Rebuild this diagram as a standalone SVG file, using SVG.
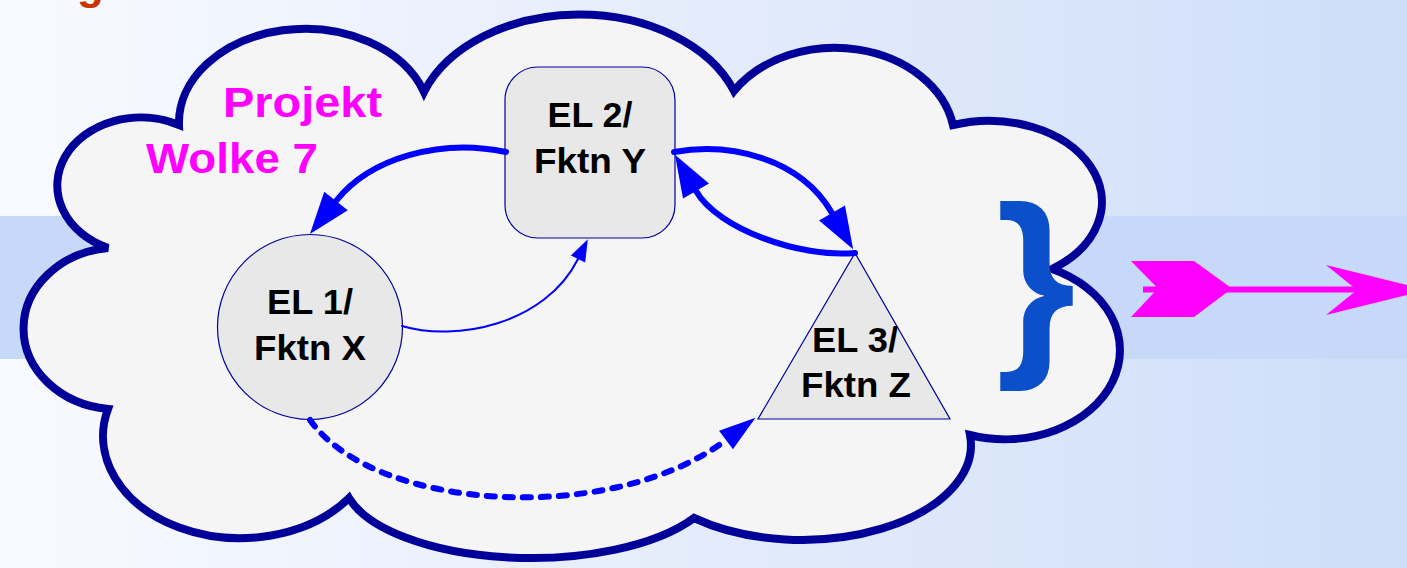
<svg xmlns="http://www.w3.org/2000/svg" width="1407" height="568" viewBox="0 0 1407 568">
  <defs>
    <linearGradient id="bg" x1="0" y1="0" x2="1" y2="0">
      <stop offset="0" stop-color="#f8faff"/>
      <stop offset="0.5" stop-color="#e4ecfb"/>
      <stop offset="1" stop-color="#cedef9"/>
    </linearGradient>
    <marker id="ah-thick" markerUnits="userSpaceOnUse" markerWidth="44" markerHeight="32" viewBox="0 -16 44 32" refX="0" refY="0" orient="auto" overflow="visible">
      <path d="M0,-15 L42,0 L0,15 Z" fill="#0000ff"/>
    </marker>
    <marker id="ah-thin" markerUnits="userSpaceOnUse" markerWidth="24" markerHeight="18" viewBox="0 -9 24 18" refX="0" refY="0" orient="auto" overflow="visible">
      <path d="M0,-8 L22,0 L0,8 Z" fill="#0000ff"/>
    </marker>
    <marker id="ah-dash" markerUnits="userSpaceOnUse" markerWidth="40" markerHeight="26" viewBox="0 -13 40 26" refX="0" refY="0" orient="auto" overflow="visible">
      <path d="M0,-11.5 L37,0 L0,11.5 Z" fill="#0000ff"/>
    </marker>
    <style>
      .lbl { font-family: "Liberation Sans", Arial, sans-serif; font-weight: bold; font-size: 35px; fill: #000000; text-anchor: middle; }
      .title { font-family: "Liberation Sans", Arial, sans-serif; font-weight: bold; font-size: 43px; fill: #ff00ff; }
      .shape { fill: #e8e8e8; stroke: #000099; stroke-width: 1.2; }
      .conn { fill: none; stroke: #0000ff; stroke-linecap: round; }
      .thick { stroke-width: 6; marker-end: url(#ah-thick); }
      .thin { stroke-width: 2; marker-end: url(#ah-thin); }
      .dash { stroke-width: 6; stroke-dasharray: 8 10; marker-end: url(#ah-dash); }
    </style>
  </defs>

  <!-- backdrop: horizontal gradient with a light blue band -->
  <rect x="0" y="0" width="1407" height="568" fill="url(#bg)"/>
  <rect x="0" y="216" width="1407" height="143" fill="#c6d9f8"/>

  <!-- descender of the heading line above -->
  <text x="77" y="-1" font-family="Liberation Sans, Arial, sans-serif" font-weight="bold" font-size="44" fill="#cc3300">g</text>

  <!-- cloud outline -->
  <g id="cloud">
    <path d="M179,125 A126,94 0 0 1 424,92 A165,117 0 0 1 734,91 A120,94 0 0 1 953,125 A113,81 0 0 1 1052,269 A115,89 0 0 1 970,435 A169,95 0 0 1 694,518 A188,80 0 0 1 349,498 A137,102 0 0 1 108,409 A95,81 0 0 1 108,248 A83.5,68 0 1 1 179,125 Z" fill="#f5f5f5" stroke="#000099" stroke-width="8" stroke-linejoin="miter" stroke-miterlimit="4"/>
  </g>

  <g id="cloud-title">
    <text class="title" x="223" y="117" textLength="159" lengthAdjust="spacingAndGlyphs">Projekt</text>
    <text class="title" x="146" y="173" textLength="172" lengthAdjust="spacingAndGlyphs">Wolke 7</text>
  </g>

  <g id="node-el1">
    <circle class="shape" cx="310" cy="327" r="92.5"/>
    <text class="lbl" x="310" y="314" textLength="86" lengthAdjust="spacingAndGlyphs">EL 1/</text>
    <text class="lbl" x="310" y="360" textLength="112" lengthAdjust="spacingAndGlyphs">Fktn X</text>
  </g>

  <g id="node-el2">
    <rect class="shape" x="505" y="67" width="170" height="171" rx="33" ry="33"/>
    <text class="lbl" x="590" y="127" textLength="85" lengthAdjust="spacingAndGlyphs">EL 2/</text>
    <text class="lbl" x="590" y="173" textLength="112" lengthAdjust="spacingAndGlyphs">Fktn Y</text>
  </g>

  <g id="node-el3">
    <polygon class="shape" points="855,253 950,419 758,419"/>
    <text class="lbl" x="855" y="352" textLength="86" lengthAdjust="spacingAndGlyphs">EL 3/</text>
    <text class="lbl" x="856" y="397" textLength="110" lengthAdjust="spacingAndGlyphs">Fktn Z</text>
  </g>

  <g id="brace">
    <text x="996" y="349" font-family="Liberation Sans, Arial, sans-serif" font-weight="bold" font-size="205" fill="#0c4fcb">}</text>
  </g>

  <g id="connectors">
    <path class="conn thick" d="M506,152 C440,138 370,158 336,201"/>
    <path class="conn thick" d="M674,152 C730,142 800,158 832,213"/>
    <path class="conn thick" d="M855,253 C800,258 718,229 696,191"/>
    <path class="conn thin" d="M402,326 C455,342 545,325 578,259"/>
    <path class="conn dash" d="M310,420 C375,512 612,526 726,440"/>
  </g>

  <!-- fletched output arrow -->
  <g id="output-arrow" fill="#ff00ff">
    <rect x="1143" y="286.5" width="217" height="6"/>
    <polygon points="1131,261 1194,261 1232,288.5 1194,317 1131,317 1158,288.5"/>
    <polygon points="1326,265 1427,290 1326,315 1357,290"/>
  </g>
</svg>
